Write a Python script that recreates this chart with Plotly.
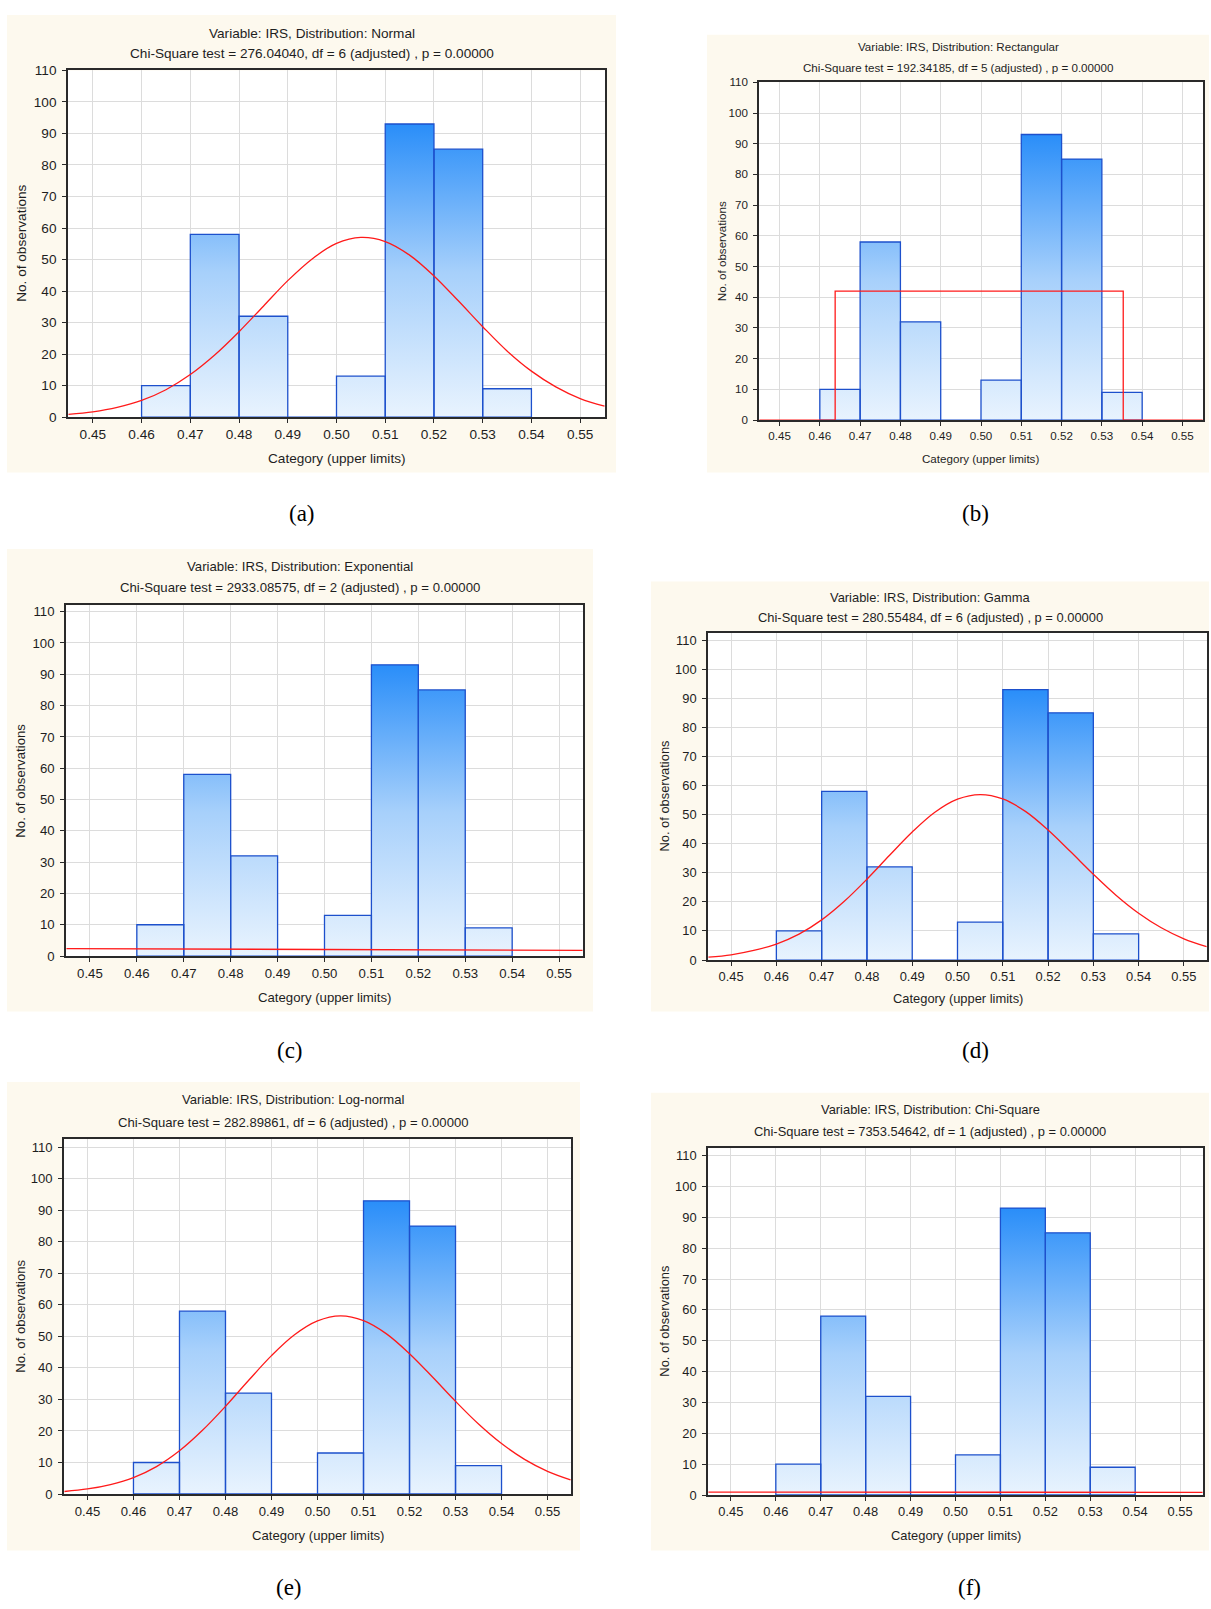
import plotly.graph_objects as go

# Figure size in pixels
W, H = 1211, 1609

# Histogram of IRS: class limits and observed counts
bin_lower = [0.46, 0.47, 0.48, 0.49, 0.50, 0.51, 0.52, 0.53]
bin_upper = [0.47, 0.48, 0.49, 0.50, 0.51, 0.52, 0.53, 0.54]
counts = [10, 58, 32, 0, 13, 93, 85, 9]

# Axis ticks
x_ticks = [0.45, 0.46, 0.47, 0.48, 0.49, 0.50, 0.51, 0.52, 0.53, 0.54, 0.55]
x_tick_text = ["0.45", "0.46", "0.47", "0.48", "0.49", "0.50", "0.51", "0.52", "0.53", "0.54", "0.55"]
y_ticks = [0, 10, 20, 30, 40, 50, 60, 70, 80, 90, 100, 110]

# Fitted (expected) curves
curve_x = [0.445, 0.450, 0.455, 0.460, 0.465, 0.470, 0.475, 0.480, 0.485, 0.490, 0.495, 0.500,
           0.505, 0.510, 0.515, 0.520, 0.525, 0.530, 0.535, 0.540, 0.545, 0.550, 0.555]
normal_fit = [0.9, 1.7, 3.1, 5.3, 8.7, 13.5, 19.7, 27.1, 35.2, 43.3, 50.2, 55.1,
              57.0, 55.7, 51.4, 44.8, 36.9, 28.7, 21.0, 14.6, 9.6, 5.9, 3.5]
gamma_fit = [1.0, 1.8, 3.3, 5.5, 8.9, 13.8, 20.2, 27.8, 36.0, 44.0, 50.8, 55.3,
             56.9, 55.4, 51.1, 44.7, 37.2, 29.5, 22.3, 16.1, 11.1, 7.3, 4.6]
lognormal_fit = [0.8, 1.6, 3.0, 5.2, 8.7, 13.7, 20.2, 27.8, 36.0, 43.9, 50.5, 54.9,
                 56.5, 55.0, 50.8, 44.5, 37.1, 29.4, 22.2, 16.0, 11.0, 7.2, 4.5]
rect_x = [0.445, 0.4638, 0.4638, 0.5353, 0.5353, 0.555]
rect_fit = [0, 0, 42, 42, 0, 0]
expo_x = [0.445, 0.500, 0.555]
expo_fit = [2.4, 2.1, 1.85]
chisq_x = [0.445, 0.500, 0.555]
chisq_fit = [0.95, 0.9, 0.85]

distributions = ["Normal", "Rectangular", "Exponential", "Gamma", "Log-normal", "Chi-Square"]
chi_square = ["276.04040", "192.34185", "2933.08575", "280.55484", "282.89861", "7353.54642"]
dfs = [6, 5, 2, 6, 6, 1]
captions = ["(a)", "(b)", "(c)", "(d)", "(e)", "(f)"]
fits = [(curve_x, normal_fit, "spline"), (rect_x, rect_fit, "linear"), (expo_x, expo_fit, "spline"),
        (curve_x, gamma_fit, "spline"), (curve_x, lognormal_fit, "spline"), (chisq_x, chisq_fit, "linear")]

# Panel geometry in pixels: background box, plot box, y max, title rows, label positions
panels = [
    dict(bg=(7, 8, 616, 470), plot=(68, 64, 605, 414), ymax=110, t1=27, t2=47,
         ytx=22, xty=456, cap=(302, 511), fs=13.6),
    dict(bg=(707, 28, 1209, 470), plot=(759, 76, 1203, 417), ymax=110, t1=40, t2=61,
         ytx=721, xty=456, cap=(976, 511), fs=11.6),
    dict(bg=(7, 547, 593, 1014), plot=(66, 604, 583, 958), ymax=112, t1=565, t2=586,
         ytx=21, xty=1000, cap=(290, 1053), fs=13.2),
    dict(bg=(651, 580, 1209, 1014), plot=(708, 632, 1207, 962), ymax=112.4, t1=596, t2=616,
         ytx=665, xty=1001, cap=(976, 1053), fs=12.9),
    dict(bg=(7, 1085, 580, 1558), plot=(64, 1143, 571, 1501), ymax=112.5, t1=1103, t2=1126,
         ytx=21, xty=1543, cap=(289, 1595), fs=13.1),
    dict(bg=(651, 1096, 1209, 1558), plot=(708, 1152, 1203, 1502), ymax=112.4, t1=1113, t2=1135,
         ytx=665, xty=1543, cap=(969, 1595), fs=12.9),
]


def px(x):
    return x / W


def py(y):
    return 1 - y / H


SANS = "Liberation Sans, Arial, sans-serif"
TXT = "#1e1e1e"

fig = go.Figure()
shapes, annotations = [], []
layout_axes = {}

# Bar outlines as closed polygons, filled with a vertical gradient keyed to count
bar_x, bar_y = [], []
for lo, hi, c in zip(bin_lower, bin_upper, counts):
    bar_x += [lo, lo, hi, hi, lo, None]
    bar_y += [0, c, c, 0, 0, None]

for i, p in enumerate(panels):
    n = i + 1
    xa = "x" if n == 1 else f"x{n}"
    ya = "y" if n == 1 else f"y{n}"
    x0, y0, x1, y1 = p["plot"]
    fs = p["fs"]

    # cream panel background and white plotting area
    shapes.append(dict(type="rect", xref="paper", yref="paper", layer="below",
                       x0=px(p["bg"][0]), x1=px(p["bg"][2]), y0=py(p["bg"][3]), y1=py(p["bg"][1]),
                       fillcolor="#fdf9ee", line=dict(width=0)))
    shapes.append(dict(type="rect", xref="paper", yref="paper", layer="below",
                       x0=px(x0), x1=px(x1), y0=py(y1), y1=py(y0),
                       fillcolor="#ffffff", line=dict(width=0)))

    axis_common = dict(showline=True, linecolor="#2a2a2a", linewidth=1.6, mirror=True,
                       showgrid=True, gridcolor="#dcdcdc", gridwidth=1, zeroline=False,
                       ticks="outside", ticklen=4, tickcolor="#2a2a2a", tickwidth=1,
                       tickfont=dict(family=SANS, size=fs, color=TXT))
    layout_axes["xaxis" if n == 1 else f"xaxis{n}"] = dict(
        domain=[px(x0), px(x1)], anchor=ya, range=[0.4449, 0.5551],
        tickvals=x_ticks, ticktext=x_tick_text, ticklabelstandoff=0, **axis_common)
    layout_axes["yaxis" if n == 1 else f"yaxis{n}"] = dict(
        domain=[py(y1), py(y0)], anchor=xa, range=[0, p["ymax"]],
        tickvals=y_ticks, ticklabelstandoff=3, **axis_common)

    fig.add_trace(go.Scatter(
        x=bar_x, y=bar_y, xaxis=xa, yaxis=ya, mode="lines", fill="toself",
        line=dict(color="#1d50cc", width=1.3),
        fillgradient=dict(type="vertical", start=0, stop=93,
                          colorscale=[[0, "#eaf4fe"], [0.5, "#a7d0fb"], [1, "#2a8ef9"]]),
        hoverinfo="skip", showlegend=False))

    fx, fy, shape = fits[i]
    fig.add_trace(go.Scatter(
        x=fx, y=fy, xaxis=xa, yaxis=ya, mode="lines",
        line=dict(color="#ff1a1a", width=1.3, shape=shape),
        hoverinfo="skip", showlegend=False))

    cx = (p["bg"][0] + p["bg"][2]) / 2
    annotations.append(dict(xref="paper", yref="paper", x=px(cx), y=py(p["t1"]),
                            text=f"Variable: IRS, Distribution: {distributions[i]}",
                            showarrow=False, xanchor="center", yanchor="middle",
                            font=dict(family=SANS, size=fs, color=TXT)))
    annotations.append(dict(xref="paper", yref="paper", x=px(cx), y=py(p["t2"]),
                            text=f"Chi-Square test = {chi_square[i]}, df = {dfs[i]} (adjusted) , p = 0.00000",
                            showarrow=False, xanchor="center", yanchor="middle",
                            font=dict(family=SANS, size=fs, color=TXT)))
    annotations.append(dict(xref="paper", yref="paper", x=px(p["ytx"]), y=py((y0 + y1) / 2),
                            text="No. of observations", textangle=-90, showarrow=False,
                            xanchor="center", yanchor="middle",
                            font=dict(family=SANS, size=fs, color=TXT)))
    annotations.append(dict(xref="paper", yref="paper", x=px((x0 + x1) / 2), y=py(p["xty"]),
                            text="Category (upper limits)", showarrow=False,
                            xanchor="center", yanchor="middle",
                            font=dict(family=SANS, size=fs, color=TXT)))
    annotations.append(dict(xref="paper", yref="paper", x=px(p["cap"][0]), y=py(p["cap"][1]),
                            text=captions[i], showarrow=False, xanchor="center", yanchor="middle",
                            font=dict(family="Liberation Serif, Times New Roman, serif", size=23,
                                      color="#000000")))

fig.update_layout(
    width=W, height=H, margin=dict(l=0, r=0, t=0, b=0),
    paper_bgcolor="white", plot_bgcolor="white",
    shapes=shapes, annotations=annotations, showlegend=False,
    **layout_axes,
)

fig.write_html("out.html")
